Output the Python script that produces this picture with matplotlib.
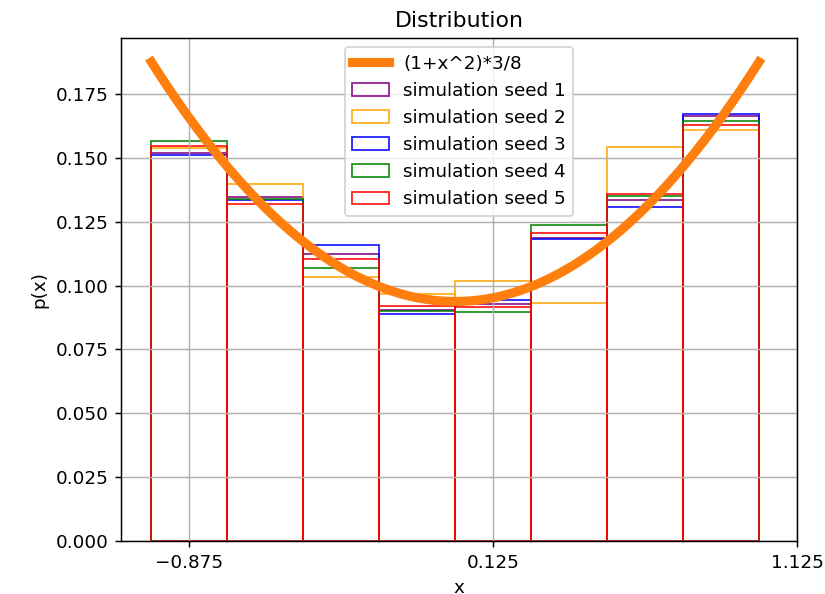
import numpy as np
import matplotlib
matplotlib.use("Agg")
import matplotlib.pyplot as plt

# bin edges on [-1, 1], 8 bins
edges = np.linspace(-1.0, 1.0, 9)
centers = 0.5 * (edges[:-1] + edges[1:])
width = edges[1] - edges[0]

# fraction of samples falling in each bin, per seed
seed1 = [0.1518, 0.1345, 0.1124, 0.0906, 0.0926, 0.1185, 0.1336, 0.1664]
seed2 = [0.1538, 0.1398, 0.1033, 0.0968, 0.1016, 0.0931, 0.1544, 0.1608]
seed3 = [0.1510, 0.1333, 0.1160, 0.0887, 0.0944, 0.1182, 0.1309, 0.1673]
seed4 = [0.1565, 0.1340, 0.1068, 0.0902, 0.0896, 0.1238, 0.1349, 0.1642]
seed5 = [0.1546, 0.1320, 0.1103, 0.0919, 0.0915, 0.1206, 0.1358, 0.1629]

seeds = [seed1, seed2, seed3, seed4, seed5]
colors = ['purple', 'orange', 'blue', 'green', 'red']
xticks = [-0.875, 0.125, 1.125]

fig, ax = plt.subplots(figsize=(6.25, 4.5), dpi=132)
fig.subplots_adjust(left=0.1467, right=0.966, top=0.936, bottom=0.0892)

# expected probability per bin
xs = np.linspace(-1.0, 1.0, 200)
ax.plot(xs, (1 + xs**2) * 3 / 8 * width, color='#ff7f0e', lw=5,
        label='(1+x^2)*3/8')

# open (unfilled) bars for each seed
for i, (vals, c) in enumerate(zip(seeds, colors)):
    ax.hist(centers, bins=edges, weights=vals, histtype='bar', fill=False,
            edgecolor=c, alpha=0.85, label='simulation seed %d' % (i + 1))

ax.set_xticks(xticks)
ax.grid(True)
ax.legend(loc='upper center')
ax.set_title('Distribution')
ax.set_xlabel('x')
ax.set_ylabel('p(x)')

plt.savefig('out.png', dpi=132)
